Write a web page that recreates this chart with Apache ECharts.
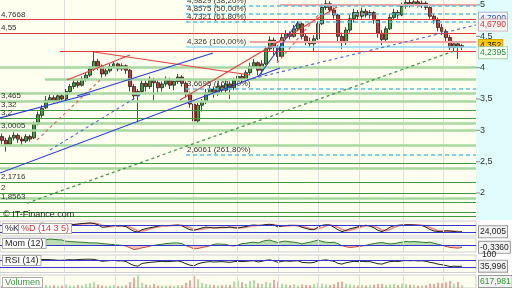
<!DOCTYPE html>
<html><head><meta charset="utf-8">
<script src="https://cdn.jsdelivr.net/npm/echarts@6/dist/echarts.min.js"></script>
<style>html,body{margin:0;padding:0;background:#fff}#c{width:512px;height:288px}</style>
</head><body><div id="c"></div>
<script>
// ---------- DATA ----------
const categories = Array.from({length:119}, (_, i) => 'S' + (i + 1));
const opens = [2.90,2.84,2.78,2.88,2.92,2.86,2.83,2.90, 2.88,3.10,3.24, 3.36,3.48,3.52,3.46,3.55,3.50, 3.62,3.70,3.76,3.72,3.82,3.88, 3.98,4.10, 4.02,3.90,3.95,4.02,4.06,3.98,4.03, 3.96,3.70,3.55, 3.62,3.75,3.70,3.80,3.76,3.68,3.74,3.80,3.72,3.78,3.85, 3.75,3.58,3.42, 3.15,3.40,3.46,3.60,3.66,3.58,3.70,3.64,3.74,3.68,3.80, 3.86,3.82,3.92,4.02,4.08,3.96, 4.06,4.30,4.44,4.32,4.18, 4.48,4.54,4.50,4.62, 4.70,4.50,4.42,4.38, 4.46,4.70,4.96,5.02,4.92, 4.84,4.50,4.40, 4.60,4.78,4.88,4.82,4.90,4.84,4.88, 4.76,4.55,4.45, 4.62,4.80,4.88,4.84,4.98,5.04,5.00,5.05,5.00,5.03, 4.96,4.82,4.76,4.64,4.58,4.48,4.32,4.38,4.33];
const closes = [2.84,2.78,2.88,2.92,2.86,2.83,2.90,2.86, 3.10,3.25,3.35, 3.48,3.52,3.46,3.55,3.50,3.62, 3.70,3.76,3.72,3.82,3.88,3.98, 4.10,4.02, 3.90,3.95,4.02,4.06,3.98,4.03,3.96, 3.70,3.55,3.62, 3.75,3.70,3.80,3.76,3.68,3.74,3.80,3.72,3.78,3.85,3.75, 3.58,3.42,3.15, 3.40,3.46,3.60,3.66,3.58,3.70,3.64,3.74,3.68,3.80,3.86, 3.82,3.92,4.02,4.08,3.96,4.06, 4.30,4.44,4.32,4.18,4.48, 4.54,4.50,4.62,4.70, 4.50,4.42,4.38,4.46, 4.70,4.96,5.02,4.92,4.84, 4.50,4.40,4.60, 4.78,4.88,4.82,4.90,4.84,4.88,4.76, 4.55,4.45,4.62, 4.80,4.88,4.84,4.98,5.04,5.00,5.05,5.00,5.03,4.96, 4.82,4.76,4.64,4.58,4.48,4.32,4.38,4.33,4.352];
const lows = [2.78,2.66,2.75,2.84,2.80,2.76,2.80,2.82, 2.86,3.08,3.20, 3.34,3.44,3.42,3.43,3.45,3.48, 3.58,3.66,3.68,3.70,3.78,3.85, 3.95,3.96, 3.84,3.86,3.92,3.98,3.94,3.95,3.90, 3.62,3.48,3.10, 3.58,3.62,3.66,3.45,3.60,3.62,3.70,3.66,3.64,3.74,3.70, 3.52,3.36,3.05, 3.12,3.30,3.42,3.56,3.52,3.55,3.58,3.60,3.50,3.64,3.76, 3.76,3.78,3.88,3.98,3.88,3.90, 4.04,4.26,4.20,4.10,4.16, 4.44,4.45,4.48,4.58, 4.45,4.36,4.32,4.25, 4.44,4.68,4.92,4.88,4.78, 4.42,4.30,4.36, 4.56,4.72,4.76,4.78,4.80,4.78,4.70, 4.48,4.36,4.42, 4.60,4.76,4.78,4.82,4.94,4.96,4.98,4.96,4.95,4.92, 4.78,4.70,4.58,4.52,4.42,4.28,4.25,4.14,4.28];
const highs = [2.95,2.88,2.92,2.97,2.95,2.90,2.94,2.93, 3.14,3.30,3.40, 3.55,3.58,3.56,3.60,3.58,3.66, 3.74,3.82,3.80,3.86,3.92,4.02, 4.25,4.14, 4.05,4.00,4.06,4.10,4.08,4.07,4.05, 3.98,3.74,3.66, 3.80,3.80,3.86,3.84,3.80,3.78,3.86,3.84,3.82,3.90,3.88, 3.78,3.62,3.45, 3.44,3.50,3.66,3.72,3.70,3.76,3.74,3.80,3.78,3.84,3.92, 3.90,3.96,4.08,4.14,4.10,4.12, 4.34,4.50,4.48,4.36,4.55, 4.60,4.58,4.68,4.74, 4.72,4.55,4.48,4.52, 4.74,5.02,5.08,5.06,4.96, 4.86,4.56,4.65, 4.84,4.94,4.92,4.96,4.94,4.92,4.90, 4.78,4.60,4.66, 4.86,4.94,4.92,5.04,5.08,5.08,5.08,5.08,5.07,5.06, 4.98,4.86,4.80,4.70,4.62,4.52,4.42,4.40,4.38];
const volumes = [500,700,450,380,520,600,420,480, 1500,1100,900,700,600,650,500, 550,800,600,500,700,650,900,1100, 1300,800, 600,500,550,700,450,500,650, 1400,2400,2900, 1200,800,700, 900,600,500,550,600,500,700,650, 1200,1800,2800, 2000,1200,900,800, 700,600,650,800,700,1500,1700, 1300,900,1600,1800,1100,900,1400, 1200,1900,1500,900,800, 700,900,600,800,700,650, 900,1200,1000,800,700, 900,1400,1500,1000, 800,700,600,750,600,700, 800,900,1000,700, 800,900,700,1000,900,800,700,600,650,700, 1000,900,1200,1100,1300,1600,1000,1400,617.981];
const stochK = [45,35,50,60,48,40,55,50, 80,88,92,90,85,82,78, 75,80,85,82,86,90,92,94, 90,80, 60,62,70,74,70,72,65, 45,28,22, 40,50,56, 62,70,75,72,74,76,78,72, 55,40,35, 45,55,62,58, 54,56,60,58,62,56,54, 60,66,75,78,74,76,82, 84,78,62,70,74, 76,74,72,60,50,42, 40,62,76,80,78, 60,40,25,35, 48,55,64,72,76,70, 55,35,25,40, 60,72,76,78,80,80,78,76,74,60, 42,30,26,28,32,30,26,22,24.005];
const stochD = [50,45,44,48,52,50,48,50, 60,72,84,88,88,86,82, 78,78,80,82,84,86,89,91, 92,88, 76,68,64,68,71,72,70, 60,46,32, 30,37,48, 56,62,69,72,73,74,76,75, 68,56,44, 40,44,52,58, 58,57,57,58,60,59,57, 57,60,66,72,75,76,78, 80,81,74,70,68, 72,75,74,68,60,50, 44,48,58,72,78, 72,60,42,33, 36,46,56,64,70,72, 66,54,38,32, 42,58,70,76,78,79,79,78,76,70, 58,44,33,28,29,30,29,26,24];
const momentum = [0.1,0.0,0.1,0.2,0.15,0.1,0.2,0.15, 0.5,0.7,0.72,0.75,0.85,0.8,0.75, 0.72,0.55,0.5,0.45,0.42,0.4,0.35,0.3, 0.3,0.28, 0.2,0.15,0.1,0.05,0.0,-0.05,-0.15, -0.4,-0.65,-0.55, -0.4,-0.3,-0.15, -0.05,0.05,0.1,0.2,0.25,0.3,0.28,0.2, -0.1,-0.3,-0.55, -0.5,-0.35,-0.25,-0.1, 0.1,0.15,0.12,0.1,-0.1,-0.15,0.0, 0.2,0.25,0.35,0.4,0.3,0.5,0.65, 0.7,0.5,0.35,0.5,0.55, 0.45,0.4,0.3,0.15,0.3,0.4, 0.55,0.7,0.5,0.4,0.35, 0.4,0.2,-0.1,-0.25, -0.35,-0.3,-0.2,-0.15,-0.05,0.1, 0.2,0.3,0.35,0.25, 0.15,0.2,0.3,0.4,0.5,0.45,0.5,0.45,0.4,0.35, 0.4,0.25,0.1,-0.05,-0.2,-0.35,-0.4,-0.45,-0.336];
const rsi = [55,50,58,60,56,54,58,56, 68,72,74,75,73,72,70, 70,72,73,72,74,75,76,76, 75,70, 64,66,68,69,66,67,63, 50,40,36, 52,55,58, 60,62,64,62,63,65,66,60, 50,42,38, 50,56,60,62, 60,61,62,60,58,62,64, 62,64,66,67,60,64,70, 72,66,58,64,66, 64,66,67,58,56,55, 58,66,70,72,68, 64,52,48,56, 60,64,62,64,62,62, 56,50,48,56, 62,64,63,66,68,67,68,66,67,64, 58,54,48,44,40,34,36,35,35.996];

const yTicks = [2, 2.5, 3, 3.5, 4, 4.5, 5];
const periodMarks = [15.5, 28.25, 47.75, 58.75, 69, 79, 89.25, 100.25, 110.25];

const lightGreenLevels = [4.0, 3.819, 3.596, 3.465, 3.117, 3.0005, 2.755, 2.399, 1.92];
const lightGreenStarts = [-0.5, 10.75, -0.5, -0.5, -0.5, -0.5, -0.5, -0.5, -0.5];
const darkGreenLevels = [3.32, 3.2, 2.479, 2.1716, 2, 1.8563, 1.696, 1.633];
const redLevels = [4.7668, 4.55, 4.26];
const redStarts = [-0.5, -0.5, 14.5];
const pinkLevels = [5.0, 4.41];
const pinkStarts = [69.5, 62];
const labeledLevels = [4.7668, 4.55, 3.465, 3.32, 3.2, 3.0005, 2.1716, 2, 1.8563];
const fibLevels = [4.9829, 4.8575, 4.7321, 4.326, 3.6695, 2.6061];
const fibPercents = ['38,20%', '50,00%', '61,80%', '100,00%', '161,80%', '261,80%'];
const fibStart = 46;

const redTrends = [[[23, 4.25], [62, 3.883]], [[16.25, 3.803], [32, 4.202]], [[44.5, 3.484], [83.75, 4.968]]];
const redDashTrends = [[[8.75, 2.846], [24.5, 3.803]], [[68.75, 4.075], [79.5, 4.872]], [[104.5, 5.08], [115, 4.73]]];
const blueTrends = [[[-0.5, 2.319], [69.5, 3.995]], [[47.75, 3.053], [106.25, 5.08]], [[-0.5, 3.197], [22, 3.58]], [[18.75, 3.548], [52.75, 4.234]], [[64, 3.851], [74, 4.729]]];
const blueDashTrends = [[[12, 2.686], [34.5, 3.564]], [[61.25, 3.803], [118.5, 4.681]]];
const greenDashTrends = [[[6.25, 1.84], [113.75, 4.282]]];

const priceTags = [4.79, 4.679, 4.352, 4.2395];
const priceTagTexts = ['4,7900', '4,6790', '4,352', '4,2395'];
const stochBands = [80, 20];
const rsiBands = [70, 30];

// ---------- BUILD ----------
const FONT = 'Liberation Sans, Arial, sans-serif';
const N = categories.length;
const X0 = -0.5, X1 = N - 0.5;
const yMin = 5 - 215 / 62.67, yMax = 5 + 5 / 62.67;
const fmt = v => String(v).replace('.', ',');
const pairs = a => a.map((v, i) => [i, v]);
const last = a => a[a.length - 1];
const HIDE = () => ({show: false});
const INVIS = () => ({color: 'rgba(0,0,0,0)', width: 1, type: 'solid'});

const vLines = (lo, hi) => periodMarks.map(v => [
  {coord: [v, lo], lineStyle: {color: '#dedede', width: 1, type: 'solid'}, label: HIDE()},
  {coord: [v, hi]}]);
const hLine = (v, style, label, start) => [
  {coord: [start == null ? X0 : start, v], lineStyle: style, label: label || HIDE()},
  {coord: [X1, v]}];

const lvl = (v, start, style) => hLine(v, style, labeledLevels.includes(v) ?
  {show: true, position: 'insideStartTop', formatter: fmt(v), color: '#333', fontSize: 8, fontFamily: FONT, distance: [1, 1]} : null, start);
const lightG = {color: '#a6d8a0', width: 2.5, type: 'solid'};
const darkG = {color: '#3d9b3d', width: 1.2, type: 'solid'};
const redS = {color: '#e23a3a', width: 1.2, type: 'solid'};
const pinkS = {color: '#f2a4a4', width: 2, type: 'solid'};
const levelData = [];
lightGreenLevels.forEach((v, i) => levelData.push(lvl(v, lightGreenStarts[i], lightG)));
darkGreenLevels.forEach(v => levelData.push(lvl(v, X0, darkG)));
pinkLevels.forEach((v, i) => levelData.push(lvl(v, pinkStarts[i], pinkS)));
redLevels.forEach((v, i) => levelData.push(lvl(v, redStarts[i], redS)));
fibLevels.forEach((v, i) => {
  const solid = v === 4.326;
  levelData.push(hLine(v,
    solid ? {color: '#92d9f7', width: 1.6, type: 'solid'} : {color: '#4fc3f0', width: 1.5, type: [4, 3]},
    {show: true, position: 'insideStartTop', formatter: fmt(v) + ' (' + fibPercents[i] + ')', color: '#333', fontSize: 8, fontFamily: FONT, distance: [1, 1]},
    fibStart));
});

const seg = (p, style) => [{coord: p[0], lineStyle: style, label: HIDE()}, {coord: p[1]}];
const trendData = [];
redTrends.forEach(p => trendData.push(seg(p, {color: '#e84040', width: 1.2, type: 'solid'})));
redDashTrends.forEach(p => trendData.push(seg(p, {color: '#ee6060', width: 1.2, type: [3, 3]})));
blueTrends.forEach(p => trendData.push(seg(p, {color: '#2a3ee0', width: 1.2, type: 'solid'})));
blueDashTrends.forEach(p => trendData.push(seg(p, {color: '#4a66d8', width: 1.1, type: [3, 3]})));
greenDashTrends.forEach(p => trendData.push(seg(p, {color: '#3f9a4a', width: 1.3, type: [3, 3]})));

const tagStyles = [
  {color: '#2f4fb0', backgroundColor: '#f4f6ff', borderColor: '#b0b0c8'},
  {color: '#d23030', backgroundColor: '#fff6f6', borderColor: '#d0b0b0'},
  {color: '#111', backgroundColor: '#ffcc00', borderColor: '#d8a800'},
  {color: '#2a8a3a', backgroundColor: '#f4fff4', borderColor: '#b0d0b0'}
];
const tagData = priceTags.map((v, i) => hLine(v, INVIS(),
  Object.assign({show: true, position: 'end', distance: 3, formatter: priceTagTexts[i], fontSize: 8.5, fontFamily: FONT, borderWidth: 1, padding: [1, 1]}, tagStyles[i])));

const tagLabel = (text, color) => ({show: true, position: 'end', distance: 3, formatter: text, fontSize: 8.5, fontFamily: FONT, color: color || '#222', backgroundColor: '#f3f3f3', borderColor: '#9a9a9a', borderWidth: 1, padding: [1, 1]});
const BLUE = () => ({color: '#3535d0', width: 1, type: 'solid'});

const gridBase = {left: 0, width: 476, show: true, backgroundColor: '#fffff0', borderColor: '#cfcfcf', borderWidth: 1, outerBoundsMode: 'none', containLabel: false};
const valX = g => ({type: 'value', gridIndex: g, min: X0, max: X1, show: false});
const hiddenY = (g, min, max) => ({type: 'value', gridIndex: g, min: min, max: max, show: false, splitLine: {show: false}});
const noSym = ['none', 'none'];
const ML = data => ({silent: true, symbol: noSym, animation: false, data: data});
// momentum fill: green above the zero line, red below (zero line sits mid-panel)
const MOM_TOP = 238, MOM_H = 14;
const splitGrad = (up, down) => ({type: 'linear', x: 0, y: MOM_TOP, x2: 0, y2: MOM_TOP + MOM_H, global: true,
  colorStops: [{offset: 0, color: up}, {offset: 0.5, color: up}, {offset: 0.5, color: down}, {offset: 1, color: down}]});

const option = {
  animation: false,
  backgroundColor: '#ffffff',
  textStyle: {fontFamily: FONT},
  grid: [
    Object.assign({}, gridBase, {top: 0, height: 220, borderWidth: 0}),
    Object.assign({}, gridBase, {top: 221, height: 15}),
    Object.assign({}, gridBase, {top: MOM_TOP, height: MOM_H}),
    Object.assign({}, gridBase, {top: 255, height: 17.5}),
    Object.assign({}, gridBase, {top: 275, height: 13})
  ],
  xAxis: [
    {type: 'category', gridIndex: 0, data: categories, boundaryGap: true, show: false},
    valX(0), valX(1), valX(2), valX(3), valX(4)
  ],
  yAxis: [
    {type: 'value', gridIndex: 0, position: 'right', min: yMin, max: yMax,
     axisLine: {show: false}, splitLine: {show: false}, axisTick: {show: false},
     axisLabel: {show: true, customValues: yTicks, formatter: v => '{t|}' + fmt(v), fontSize: 9, color: '#333', margin: 0, fontFamily: FONT,
       rich: {t: {width: 4, height: 1, backgroundColor: '#8a8a8a', padding: 0, verticalAlign: 'middle'}}}},
    hiddenY(1, -10, 110), hiddenY(2, -1, 1), hiddenY(3, 0, 100), hiddenY(4, 0, 3000)
  ],
  graphic: [
    {type: 'rect', left: 476, top: 0, shape: {width: 36, height: 220}, style: {fill: '#e0fcfd'}, z: -10, silent: true},
    {type: 'text', left: 3, top: 210, style: {text: '\u00a9 IT-Finance.com', font: '9px ' + FONT, fill: '#222'}, z: 10},
    {type: 'text', left: 2, top: 223, style: {text: '%K', font: '9px ' + FONT, fill: '#222', backgroundColor: '#fff', borderColor: '#aaa', borderWidth: 1, padding: [0, 2]}, z: 10},
    {type: 'text', left: 18, top: 223, style: {text: '%D (14 3 5)', font: '9px ' + FONT, fill: '#d83030', backgroundColor: '#fff', borderColor: '#aaa', borderWidth: 1, padding: [0, 2]}, z: 10},
    {type: 'text', left: 2, top: 238, style: {text: 'Mom (12)', font: '9px ' + FONT, fill: '#222', backgroundColor: '#fff', borderColor: '#aaa', borderWidth: 1, padding: [0, 2]}, z: 10},
    {type: 'text', left: 2, top: 255, style: {text: 'RSI (14)', font: '9px ' + FONT, fill: '#222', backgroundColor: '#fff', borderColor: '#aaa', borderWidth: 1, padding: [0, 2]}, z: 10},
    {type: 'text', left: 2, top: 277, style: {text: 'Volumen', font: '9px ' + FONT, fill: '#3a9a3a', backgroundColor: '#fff', borderColor: '#aaa', borderWidth: 1, padding: [0, 2]}, z: 10}
  ],
  series: [
    {type: 'line', xAxisIndex: 1, yAxisIndex: 0, data: [], z: 0, silent: true, markLine: ML(vLines(yMin, yMax))},
    {type: 'line', xAxisIndex: 1, yAxisIndex: 0, data: [], z: 1, silent: true, markLine: ML(levelData)},
    {type: 'candlestick', xAxisIndex: 0, yAxisIndex: 0, z: 3, barWidth: 3,
     data: opens.map((o, i) => [o, closes[i], lows[i], highs[i]]),
     itemStyle: {color: '#34a834', color0: '#dc2c2c', borderColor: '#1e1e1e', borderColor0: '#1e1e1e', borderWidth: 0.8}},
    {type: 'line', xAxisIndex: 1, yAxisIndex: 0, data: [], z: 4, silent: true, markLine: ML(trendData)},
    {type: 'line', xAxisIndex: 1, yAxisIndex: 0, data: [], z: 5, silent: true, markLine: ML(tagData)},
    {type: 'line', xAxisIndex: 2, yAxisIndex: 1, data: pairs(stochD), symbol: 'none', z: 2,
     lineStyle: {color: '#ec8a8a', width: 1.6},
     markLine: ML(vLines(-10, 110).concat(stochBands.map(v => hLine(v, BLUE())))
       .concat([hLine(last(stochK), INVIS(), tagLabel(fmt(last(stochK))))]))},
    {type: 'line', xAxisIndex: 2, yAxisIndex: 1, data: pairs(stochK), symbol: 'none', z: 3,
     lineStyle: {color: '#222', width: 1}},
    {type: 'line', xAxisIndex: 3, yAxisIndex: 2, data: pairs(momentum), symbol: 'none', z: 3,
     lineStyle: {width: 1, color: splitGrad('#2f7a2f', '#c84848')},
     areaStyle: {origin: 0, color: splitGrad('rgba(90,175,90,0.6)', 'rgba(225,110,110,0.6)')},
     markLine: ML(vLines(-1, 1).concat([hLine(0, BLUE()), hLine(last(momentum), INVIS(), tagLabel('-0,3360'))]))},
    {type: 'line', xAxisIndex: 4, yAxisIndex: 3, data: pairs(rsi), symbol: 'none', z: 3,
     lineStyle: {color: '#222', width: 1},
     markLine: ML(vLines(0, 100).concat(rsiBands.map(v => hLine(v, BLUE())))
       .concat([hLine(100, INVIS(), {show: true, position: 'end', distance: 6, formatter: '100', fontSize: 8.5, color: '#222', fontFamily: FONT}),
                hLine(last(rsi), INVIS(), tagLabel(fmt(last(rsi))))]))},
    {type: 'bar', xAxisIndex: 5, yAxisIndex: 4, barWidth: 1, z: 3,
     data: volumes.map((v, i) => ({value: [i, v], itemStyle: {color: closes[i] >= opens[i] ? '#5cbf5c' : '#e05050'}})),
     markLine: ML(vLines(0, 3000).concat([hLine(1500, INVIS(), tagLabel(fmt(last(volumes)), '#2f9a2f'))]))}
  ]
};
const chart = echarts.init(document.getElementById('c'));
chart.setOption(option);
</script>
</body></html>
